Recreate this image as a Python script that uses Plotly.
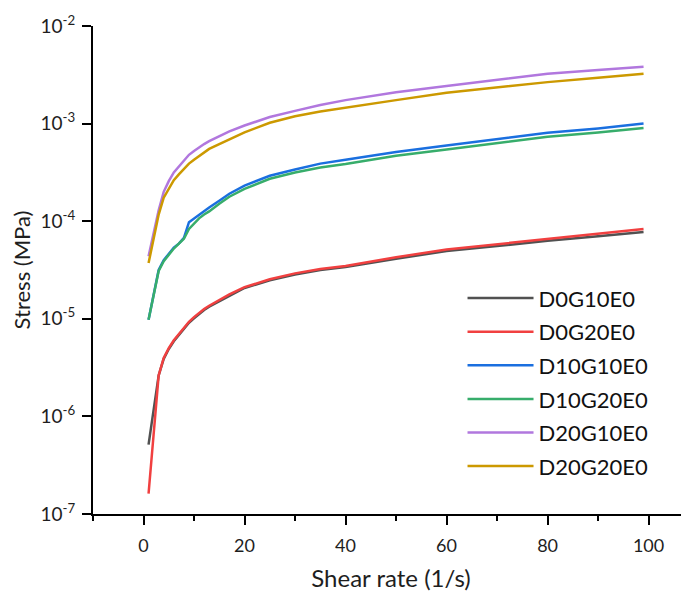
import plotly.graph_objects as go

# Shear rate (1/s)
shear_rate = [1, 3, 4, 5, 6, 7, 8, 9, 10, 11, 12, 13, 15, 17, 20, 25, 30, 35, 40, 50, 60, 70, 80, 90, 99]

# Stress (MPa) for each sample
D0G10E0 = [5.13e-7, 2.63e-6, 3.89e-6, 4.90e-6, 5.89e-6, 6.76e-6, 7.94e-6, 9.12e-6, 1.01e-5, 1.12e-5,
           1.23e-5, 1.33e-5, 1.51e-5, 1.74e-5, 2.07e-5, 2.48e-5, 2.85e-5, 3.16e-5, 3.39e-5, 4.12e-5,
           4.95e-5, 5.56e-5, 6.31e-5, 7.00e-5, 7.76e-5]
D0G20E0 = [1.62e-7, 2.63e-6, 3.98e-6, 5.01e-6, 6.03e-6, 6.92e-6, 8.13e-6, 9.33e-6, 1.04e-5, 1.15e-5,
           1.26e-5, 1.36e-5, 1.55e-5, 1.78e-5, 2.11e-5, 2.54e-5, 2.92e-5, 3.24e-5, 3.47e-5, 4.27e-5,
           5.13e-5, 5.82e-5, 6.61e-5, 7.45e-5, 8.32e-5]
D10G10E0 = [9.8e-6, 3.16e-5, 3.98e-5, 4.68e-5, 5.37e-5, 5.89e-5, 6.76e-5, 9.77e-5, 1.07e-4, 1.15e-4,
            1.26e-4, 1.38e-4, 1.62e-4, 1.91e-4, 2.32e-4, 2.92e-4, 3.39e-4, 3.89e-4, 4.27e-4, 5.13e-4,
            5.96e-4, 6.92e-4, 8.04e-4, 8.91e-4, 1.00e-3]
D10G20E0 = [9.8e-6, 3.09e-5, 3.89e-5, 4.57e-5, 5.25e-5, 5.89e-5, 6.61e-5, 8.32e-5, 9.55e-5, 1.07e-4,
            1.17e-4, 1.26e-4, 1.51e-4, 1.78e-4, 2.14e-4, 2.72e-4, 3.16e-4, 3.55e-4, 3.85e-4, 4.68e-4,
            5.43e-4, 6.31e-4, 7.33e-4, 8.13e-4, 9.02e-4]
D20G10E0 = [4.37e-5, 1.29e-4, 2.00e-4, 2.57e-4, 3.16e-4, 3.63e-4, 4.17e-4, 4.79e-4, 5.25e-4, 5.75e-4,
            6.17e-4, 6.61e-4, 7.41e-4, 8.32e-4, 9.55e-4, 1.17e-3, 1.35e-3, 1.55e-3, 1.74e-3, 2.09e-3,
            2.43e-3, 2.82e-3, 3.24e-3, 3.55e-3, 3.83e-3]
D20G20E0 = [3.72e-5, 1.17e-4, 1.74e-4, 2.14e-4, 2.63e-4, 3.02e-4, 3.47e-4, 3.89e-4, 4.27e-4, 4.68e-4,
            5.13e-4, 5.50e-4, 6.17e-4, 6.92e-4, 8.13e-4, 1.02e-3, 1.19e-3, 1.33e-3, 1.46e-3, 1.74e-3,
            2.07e-3, 2.34e-3, 2.66e-3, 2.95e-3, 3.24e-3]

series_names = ["D0G10E0", "D0G20E0", "D10G10E0", "D10G20E0", "D20G10E0", "D20G20E0"]
series_values = [D0G10E0, D0G20E0, D10G10E0, D10G20E0, D20G10E0, D20G20E0]
colors = ["#515151", "#F14040", "#1A6FDF", "#37AD6B", "#B177DE", "#CC9900"]

x_tickvals = [0, 20, 40, 60, 80, 100]
y_tickvals = [1e-7, 1e-6, 1e-5, 1e-4, 1e-3, 1e-2]
y_ticktext = ["10<sup>-7</sup>", "10<sup>-6</sup>", "10<sup>-5</sup>",
              "10<sup>-4</sup>", "10<sup>-3</sup>", "10<sup>-2</sup>"]

FONT = "Lato, 'Open Sans', sans-serif"
TXT = "#1e1e1e"

fig = go.Figure()
for name, vals, col in zip(series_names, series_values, colors):
    fig.add_trace(go.Scatter(x=shear_rate, y=vals, mode="lines", name=name,
                             legendgroup=name,
                             line=dict(color=col, width=2.5)))

# the page body has an 8px default margin, so the figure is 8px smaller
fig.update_layout(
    width=681, height=584,
    margin=dict(l=85, r=0, t=18, b=78),
    paper_bgcolor="white", plot_bgcolor="white",
    font=dict(family=FONT, color=TXT),
    showlegend=True,
    legend=dict(x=0.62, y=0.485, xanchor="left", yanchor="top",
                font=dict(family=FONT, size=22, color="#111111"),
                bgcolor="rgba(0,0,0,0)", itemwidth=66, tracegroupgap=2),
)
fig.update_xaxes(
    range=[-10, 108], showgrid=False, zeroline=False, automargin=False,
    showline=True, linecolor="black", linewidth=2,
    ticks="outside", ticklen=9, tickwidth=2, tickcolor="black",
    tickvals=x_tickvals, tickfont=dict(family=FONT, size=18, color=TXT),
    ticklabelstandoff=5,
    minor=dict(ticks="outside", ticklen=5, tickwidth=2, tickcolor="black", dtick=10, tick0=0, showgrid=False),
    title=dict(text="Shear rate (1/s)", font=dict(family=FONT, size=24, color=TXT), standoff=20),
)
fig.update_yaxes(
    type="log", range=[-7, -2], showgrid=False, zeroline=False, automargin=False,
    showline=True, linecolor="black", linewidth=2,
    ticks="outside", ticklen=9, tickwidth=2, tickcolor="black",
    tickvals=y_tickvals, ticktext=y_ticktext,
    tickfont=dict(family=FONT, size=19, color=TXT),
    ticklabelstandoff=3,
    title=dict(text="Stress (MPa)", font=dict(family=FONT, size=22, color=TXT), standoff=8),
)

fig.write_html("out.html")
